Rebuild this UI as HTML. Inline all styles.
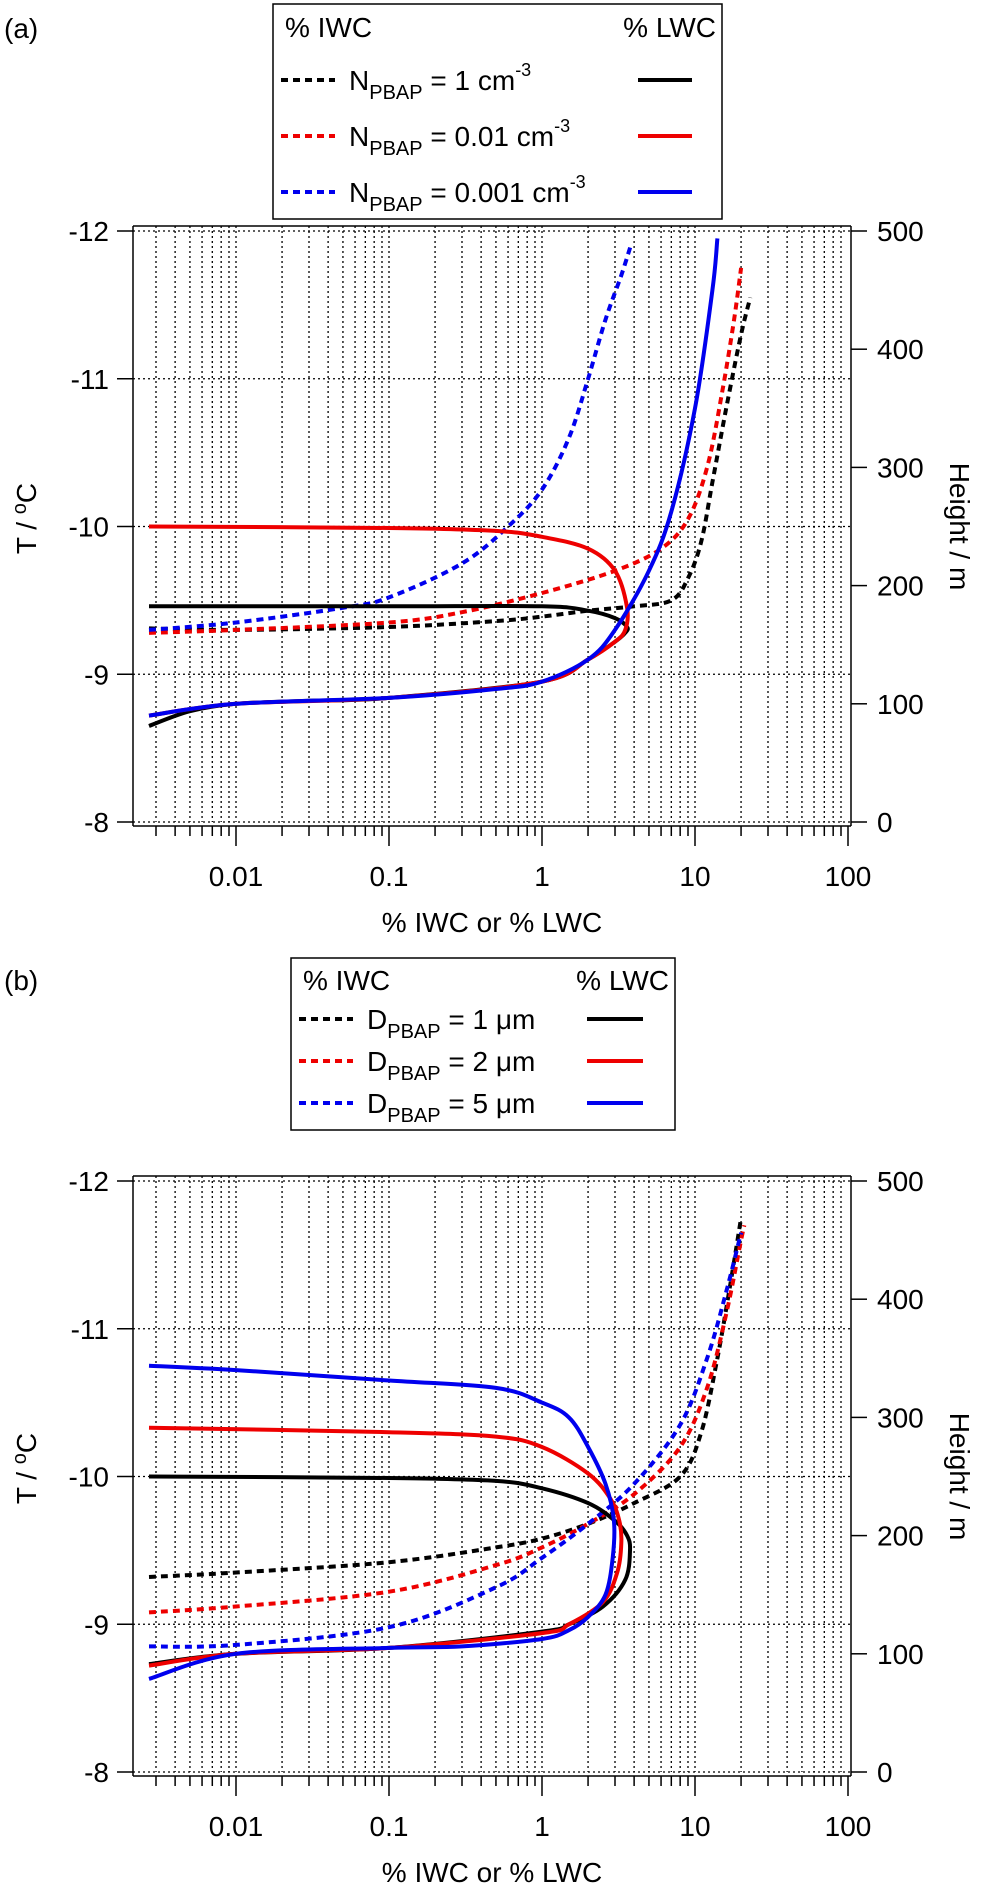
<!DOCTYPE html>
<html><head><meta charset="utf-8">
<style>
html,body{margin:0;padding:0;background:#fff;}
svg{display:block;font-family:"Liberation Sans",Arial,sans-serif;}
</style></head>
<body>
<svg id="fig" width="992" height="1896" viewBox="0 0 992 1896" xmlns="http://www.w3.org/2000/svg"></svg>
<script>
// ---------- data ----------
const xTickValues = [0.01, 0.1, 1, 10, 100];
const xTickLabels = ["0.01", "0.1", "1", "10", "100"];
const tTicks = [-12, -11, -10, -9, -8];
const hTicks = [0, 100, 200, 300, 400, 500];
const seriesColors = ["#000000", "#ee0000", "#0000ee"];

// Panel (a)
const aIwcBlackX = [0.0027,0.01,0.1,0.5,1,2,4,7,9,11,13,16,20,23];
const aIwcBlackT = [-9.31,-9.30,-9.32,-9.36,-9.39,-9.43,-9.46,-9.5,-9.65,-9.9,-10.3,-10.8,-11.3,-11.55];
const aIwcRedX = [0.0027,0.01,0.1,0.3,1,3,6,9,12,15,18,20];
const aIwcRedT = [-9.28,-9.3,-9.35,-9.42,-9.55,-9.7,-9.85,-10.05,-10.4,-10.9,-11.4,-11.75];
const aIwcBlueX = [0.0027,0.01,0.05,0.1,0.3,0.6,1,1.5,2,2.6,3.3,3.8];
const aIwcBlueT = [-9.3,-9.35,-9.45,-9.52,-9.75,-10,-10.25,-10.6,-11,-11.4,-11.7,-11.9];
const aLwcBlackX = [0.0027,0.1,1,2,3,3.6,3.5,3,2,1,0.1,0.03,0.01,0.005,0.0027];
const aLwcBlackT = [-9.46,-9.46,-9.46,-9.43,-9.38,-9.32,-9.28,-9.22,-9.1,-8.95,-8.84,-8.82,-8.8,-8.75,-8.65];
const aLwcRedX = [0.0027,0.1,0.5,1,2,3,3.6,3.5,3,2,1,0.1,0.01,0.0027];
const aLwcRedT = [-10.0,-9.99,-9.97,-9.93,-9.85,-9.7,-9.45,-9.3,-9.22,-9.1,-8.95,-8.84,-8.8,-8.72];
const aLwcBlueX = [0.0027,0.01,0.1,0.5,1,2,3,5,7,10,13,14];
const aLwcBlueT = [-8.72,-8.8,-8.84,-8.9,-8.95,-9.1,-9.3,-9.7,-10.1,-10.8,-11.6,-11.95];

// Panel (b)
const bIwcBlackX = [0.0027,0.01,0.1,0.5,1,2,4,8,11,14,17,20];
const bIwcBlackT = [-9.32,-9.35,-9.42,-9.52,-9.58,-9.68,-9.82,-10.0,-10.3,-10.8,-11.3,-11.75];
const bIwcRedX = [0.0027,0.01,0.1,0.5,1,2,4,8,12,16,20,21];
const bIwcRedT = [-9.08,-9.12,-9.22,-9.4,-9.52,-9.68,-9.88,-10.2,-10.6,-11.1,-11.6,-11.7];
const bIwcBlueX = [0.0027,0.01,0.1,0.5,1,2,4,8,12,16,20];
const bIwcBlueT = [-8.85,-8.86,-8.98,-9.25,-9.45,-9.68,-9.95,-10.35,-10.8,-11.25,-11.65];
const bLwcBlackX = [0.0027,0.1,0.5,1,2,3,3.6,3.76,3.5,2.5,1.5,1,0.1,0.01,0.0027];
const bLwcBlackT = [-10.0,-9.99,-9.97,-9.92,-9.82,-9.7,-9.6,-9.5,-9.3,-9.12,-9.0,-8.95,-8.84,-8.8,-8.73];
const bLwcRedX = [0.0027,0.1,0.5,1,2,2.8,3.2,3.3,3.1,2.5,1.5,1,0.1,0.01,0.0027];
const bLwcRedT = [-10.33,-10.3,-10.27,-10.2,-10.02,-9.85,-9.7,-9.55,-9.35,-9.15,-9.0,-8.94,-8.84,-8.8,-8.72];
const bLwcBlueX = [0.0027,0.01,0.1,0.5,1,1.5,2,2.6,2.95,2.9,2.6,2,1.5,1,0.3,0.1,0.01,0.0027];
const bLwcBlueT = [-10.75,-10.72,-10.65,-10.6,-10.5,-10.4,-10.2,-9.95,-9.7,-9.45,-9.2,-9.05,-8.96,-8.9,-8.85,-8.84,-8.8,-8.63];

// ---------- drawing ----------
const NS = "http://www.w3.org/2000/svg";
const svg = document.getElementById("fig");
function el(tag, attrs, parent){
  const e = document.createElementNS(NS, tag);
  for (const k in attrs) e.setAttribute(k, attrs[k]);
  (parent||svg).appendChild(e);
  return e;
}
const X0 = 133, X1 = 851, XONE = 542, DEC = 153;
function xs(v){ return XONE + DEC*Math.log10(v); }

function smoothPath(pts){
  let d = "M" + pts[0][0].toFixed(1) + "," + pts[0][1].toFixed(1);
  for (let i = 0; i < pts.length - 1; i++){
    const p0 = pts[Math.max(0, i-1)], p1 = pts[i], p2 = pts[i+1], p3 = pts[Math.min(pts.length-1, i+2)];
    const c1x = p1[0] + (p2[0]-p0[0])/6, c1y = p1[1] + (p2[1]-p0[1])/6;
    const c2x = p2[0] - (p3[0]-p1[0])/6, c2y = p2[1] - (p3[1]-p1[1])/6;
    d += " C" + c1x.toFixed(1) + "," + c1y.toFixed(1) + " " + c2x.toFixed(1) + "," + c2y.toFixed(1) + " " + p2[0].toFixed(1) + "," + p2[1].toFixed(1);
  }
  return d;
}

function panel(name, top, series){
  const g = el("g", {});
  
  
  const PX = 147.75;
  const ys = t => top + (t + 12) * PX;
  const bottom = ys(-8);
  const grid = el("g", {stroke:"#000","stroke-width":1.3,"stroke-dasharray":"2,3"}, g);
  
  
  for (let e = -3; e <= 1; e++){
    for (let m = 1; m <= 9; m++){
      const v = m * Math.pow(10, e);
      const x = xs(v);
      if (x <= X0 + 1 || x > X1 + 0.5) continue;
      el("line", {x1:x, y1:top-5, x2:x, y2:bottom}, grid);
    }
  }
  tTicks.forEach(t => el("line", {x1:X0, y1:ys(t), x2:X1, y2:ys(t)}, grid));
  const fr = el("g", {stroke:"#000","stroke-width":1.5, fill:"none"}, g);
  
  
  el("line", {x1:X0, y1:top-5, x2:X1, y2:top-5}, fr);
  el("line", {x1:X0, y1:top-5, x2:X0, y2:bottom+4}, fr);
  el("line", {x1:X1, y1:top-5, x2:X1, y2:bottom+4}, fr);
  el("line", {x1:X0, y1:bottom+4, x2:X1, y2:bottom+4}, fr);
  tTicks.forEach(t => {
    el("line", {x1:X0-16, y1:ys(t), x2:X0, y2:ys(t)}, fr);
    const tx = el("text", {x:X0-24, y:ys(t)+10, "text-anchor":"end", "font-size":28, fill:"#000"}, g);
    
    
    tx.textContent = String(t);
  });
  hTicks.forEach(h => {
    const y = bottom - h/500*(bottom-top);
    el("line", {x1:X1, y1:y, x2:X1+16, y2:y}, fr);
    const tx = el("text", {x:X1+26, y:y+10, "font-size":28, fill:"#000"}, g);
    
    
    tx.textContent = String(h);
  });
  for (let e = -3; e <= 2; e++){
    for (let m = 1; m <= 9; m++){
      const v = m * Math.pow(10, e);
      const x = xs(v);
      if (x < X0 + 1 || x > X1 + 0.5) continue;
      el("line", {x1:x, y1:bottom+4, x2:x, y2:bottom + (m===1?24:14)}, fr);
    }
  }
  xTickValues.forEach((v,i) => {
    const tx = el("text", {x:xs(v), y:bottom+64, "text-anchor":"middle", "font-size":28, fill:"#000"}, g);
    
    
    tx.textContent = xTickLabels[i];
  });
  const xt = el("text", {x:492, y:bottom+110, "text-anchor":"middle", "font-size":28, fill:"#000"}, g);
  
  
  xt.textContent = "% IWC or % LWC";
  const mid = (top + bottom)/2;
  const yt = el("text", {x:0, y:0, "text-anchor":"middle", "font-size":28, fill:"#000", transform:`translate(36,${mid-8}) rotate(-90)`}, g);
  
  
  yt.innerHTML = 'T / <tspan dy="-10" font-size="20">o</tspan><tspan dy="10">C</tspan>';
  const ht = el("text", {x:0, y:0, "text-anchor":"middle", "font-size":28, fill:"#000", transform:`translate(950,${mid}) rotate(90)`}, g);
  
  
  ht.textContent = "Height / m";
  series.forEach(s => {
    const pts = s.x.map((v,i) => [xs(v), ys(s.t[i])]);
    const p = el("path", {d:smoothPath(pts), fill:"none", stroke:s.c, "stroke-width":4, "stroke-linejoin":"round"}, g);
    if (s.dash) p.setAttribute("stroke-dasharray", "7,5");
    
    
  });
}

panel("panel-a", 231, [
  {name:"a-iwc-n1", x:aIwcBlackX, t:aIwcBlackT, c:seriesColors[0], dash:true},
  {name:"a-iwc-n001", x:aIwcRedX, t:aIwcRedT, c:seriesColors[1], dash:true},
  {name:"a-iwc-n0001", x:aIwcBlueX, t:aIwcBlueT, c:seriesColors[2], dash:true},
  {name:"a-lwc-n1", x:aLwcBlackX, t:aLwcBlackT, c:seriesColors[0]},
  {name:"a-lwc-n001", x:aLwcRedX, t:aLwcRedT, c:seriesColors[1]},
  {name:"a-lwc-n0001", x:aLwcBlueX, t:aLwcBlueT, c:seriesColors[2]}
]);
panel("panel-b", 1181, [
  {name:"b-iwc-d1", x:bIwcBlackX, t:bIwcBlackT, c:seriesColors[0], dash:true},
  {name:"b-iwc-d2", x:bIwcRedX, t:bIwcRedT, c:seriesColors[1], dash:true},
  {name:"b-iwc-d5", x:bIwcBlueX, t:bIwcBlueT, c:seriesColors[2], dash:true},
  {name:"b-lwc-d1", x:bLwcBlackX, t:bLwcBlackT, c:seriesColors[0]},
  {name:"b-lwc-d2", x:bLwcRedX, t:bLwcRedT, c:seriesColors[1]},
  {name:"b-lwc-d5", x:bLwcBlueX, t:bLwcBlueT, c:seriesColors[2]}
]);

const la = el("text", {x:4, y:38, "font-size":28, fill:"#000"});


la.textContent = "(a)";
const lb = el("text", {x:4, y:990, "font-size":28, fill:"#000"});


lb.textContent = "(b)";

function legend(name, x0, y0, x1, y1, rows, labels, sup){
  const g = el("g", {});
  
  
  el("rect", {x:x0, y:y0, width:x1-x0, height:y1-y0, fill:"#fff", stroke:"#000", "stroke-width":1.5}, g);
  const h1 = el("text", {x:x0+12, y:rows[0]+10, "font-size":28, fill:"#000"}, g);
  
  
  h1.textContent = "% IWC";
  const h2 = el("text", {x:x1-6, y:rows[0]+10, "text-anchor":"end", "font-size":28, fill:"#000"}, g);
  
  
  h2.textContent = "% LWC";
  for (let i = 0; i < 3; i++){
    const y = rows[i+1];
    const e = el("g", {}, g);
    
    
    el("line", {x1:x0+8, y1:y, x2:x0+62, y2:y, stroke:seriesColors[i], "stroke-width":4, "stroke-dasharray":"7,5"}, e);
    const t = el("text", {x:x0+76, y:y+10, "font-size":28, fill:"#000"}, e);
    t.innerHTML = labels[0] + '<tspan dy="9" font-size="20">PBAP</tspan><tspan dy="-9"> = ' + labels[i+1] + '</tspan>' + (sup ? '<tspan dy="-14" font-size="18">-3</tspan>' : '');
    el("line", {x1:sup?x1-84:x1-88, y1:y, x2:sup?x1-30:x1-32, y2:y, stroke:seriesColors[i], "stroke-width":4}, e);
  }
}
legend("legend-a", 273, 4, 722, 219, [27, 80, 136, 192], ["N", "1 cm", "0.01 cm", "0.001 cm"], true);
legend("legend-b", 291, 958, 675, 1130, [980, 1019, 1061, 1103], ["D", "1 μm", "2 μm", "5 μm"], false);
</script>
</body></html>
